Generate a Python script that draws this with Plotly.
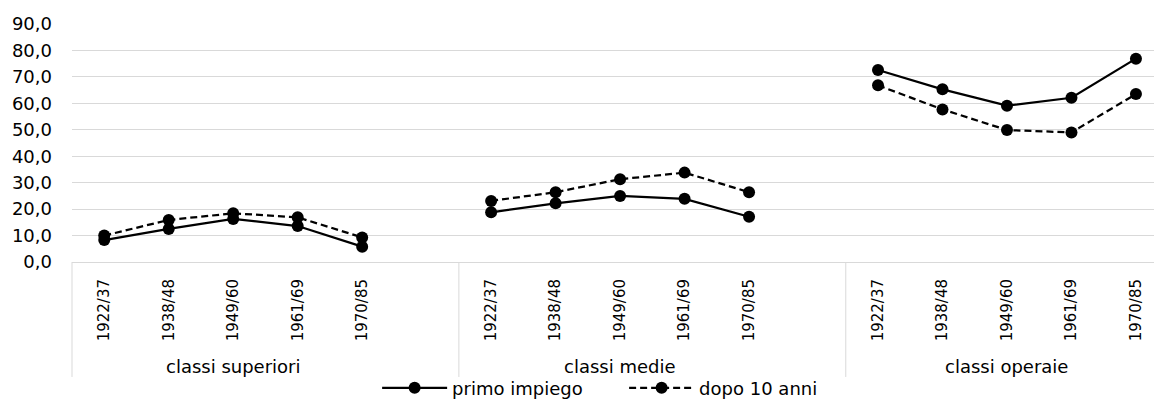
import plotly.graph_objects as go

# ---- data ----
groups = ["classi superiori", "classi medie", "classi operaie"]
periods = ["1922/37", "1938/48", "1949/60", "1961/69", "1970/85"]

primo_superiori = [8.3, 12.5, 16.3, 13.6, 5.8]
primo_medie = [18.8, 22.2, 25.0, 23.9, 17.1]
primo_operaie = [72.6, 65.3, 59.1, 62.1, 76.9]

dopo_superiori = [10.0, 15.9, 18.4, 16.9, 9.3]
dopo_medie = [23.1, 26.4, 31.3, 33.8, 26.4]
dopo_operaie = [66.8, 57.7, 49.9, 49.0, 63.5]

y_ticks = [0, 10, 20, 30, 40, 50, 60, 70, 80, 90]

# ---- build multi-level category positions (5 periods + 1 empty slot per group) ----
slot = len(periods) + 1
xs, tick_vals, tick_text = [], [], []
for g in range(len(groups)):
    for i, p in enumerate(periods):
        xs.append(g * slot + i)
        tick_vals.append(g * slot + i)
        tick_text.append(p)
    if g < len(groups) - 1:
        xs.append(g * slot + len(periods))  # gap slot -> breaks line


def with_gaps(*series):
    out = []
    for k, s in enumerate(series):
        out.extend(s)
        if k < len(series) - 1:
            out.append(None)
    return out


y_primo = with_gaps(primo_superiori, primo_medie, primo_operaie)
y_dopo = with_gaps(dopo_superiori, dopo_medie, dopo_operaie)

x_min = -0.5
x_max = 16.28
span = x_max - x_min

FONT = "DejaVu Sans"

fig = go.Figure()
fig.add_trace(go.Scatter(
    x=xs, y=y_primo, name="primo impiego", mode="lines+markers",
    line=dict(color="black", width=2.25),
    marker=dict(color="black", size=12),
    connectgaps=False,
))
fig.add_trace(go.Scatter(
    x=xs, y=y_dopo, name="dopo 10 anni", mode="lines+markers",
    line=dict(color="black", width=2.25, dash="7px,4px"),
    marker=dict(color="black", size=12),
    connectgaps=False,
))

# group separators of the category axis
shapes = []
for b in [x_min, slot - 0.5, 2 * slot - 0.5]:
    px = (b - x_min) / span
    shapes.append(dict(type="line", xref="paper", yref="paper",
                       x0=px, x1=px, y0=0, y1=-0.483,
                       line=dict(color="#d9d9d9", width=1)))

annotations = []
for g, name in enumerate(groups):
    first = g * slot
    last = g * slot + len(periods) - 1
    annotations.append(dict(
        x=(first + last) / 2, xref="x", y=-0.437, yref="paper",
        text=name, showarrow=False, xanchor="center", yanchor="middle",
        font=dict(family=FONT, size=18, color="black"),
    ))

fig.update_layout(
    width=1154, height=399,
    margin=dict(l=72, r=0, t=24, b=137, autoexpand=False),
    paper_bgcolor="white", plot_bgcolor="white",
    separators=",.",
    font=dict(family=FONT, size=18, color="black"),
    showlegend=True,
    legend=dict(orientation="h", x=0.282, xanchor="left", y=-0.53, yanchor="middle",
                font=dict(family=FONT, size=18, color="black"),
                itemwidth=65, entrywidth=167, entrywidthmode="pixels",
                bgcolor="rgba(0,0,0,0)"),
    shapes=shapes,
    annotations=annotations,
)
fig.update_xaxes(
    range=[x_min, x_max], tickvals=tick_vals, ticktext=tick_text,
    tickangle=-90, tickfont=dict(family=FONT, size=15, color="black"),
    showgrid=False, zeroline=False, showline=True, linecolor="#d9d9d9", linewidth=1,
    ticks="", ticklabelstandoff=10,
)
fig.update_yaxes(
    range=[0, 90], tickvals=y_ticks, tickformat=".1f",
    tickfont=dict(family=FONT, size=18, color="black"),
    showgrid=True, gridcolor="#d9d9d9", gridwidth=1, zeroline=False, showline=False,
    ticks="", ticklabelstandoff=19,
)

fig.write_html(
    "out.html",
    config={"displayModeBar": False},
    post_script="document.body.style.margin='0px';document.body.style.overflow='hidden';",
)
